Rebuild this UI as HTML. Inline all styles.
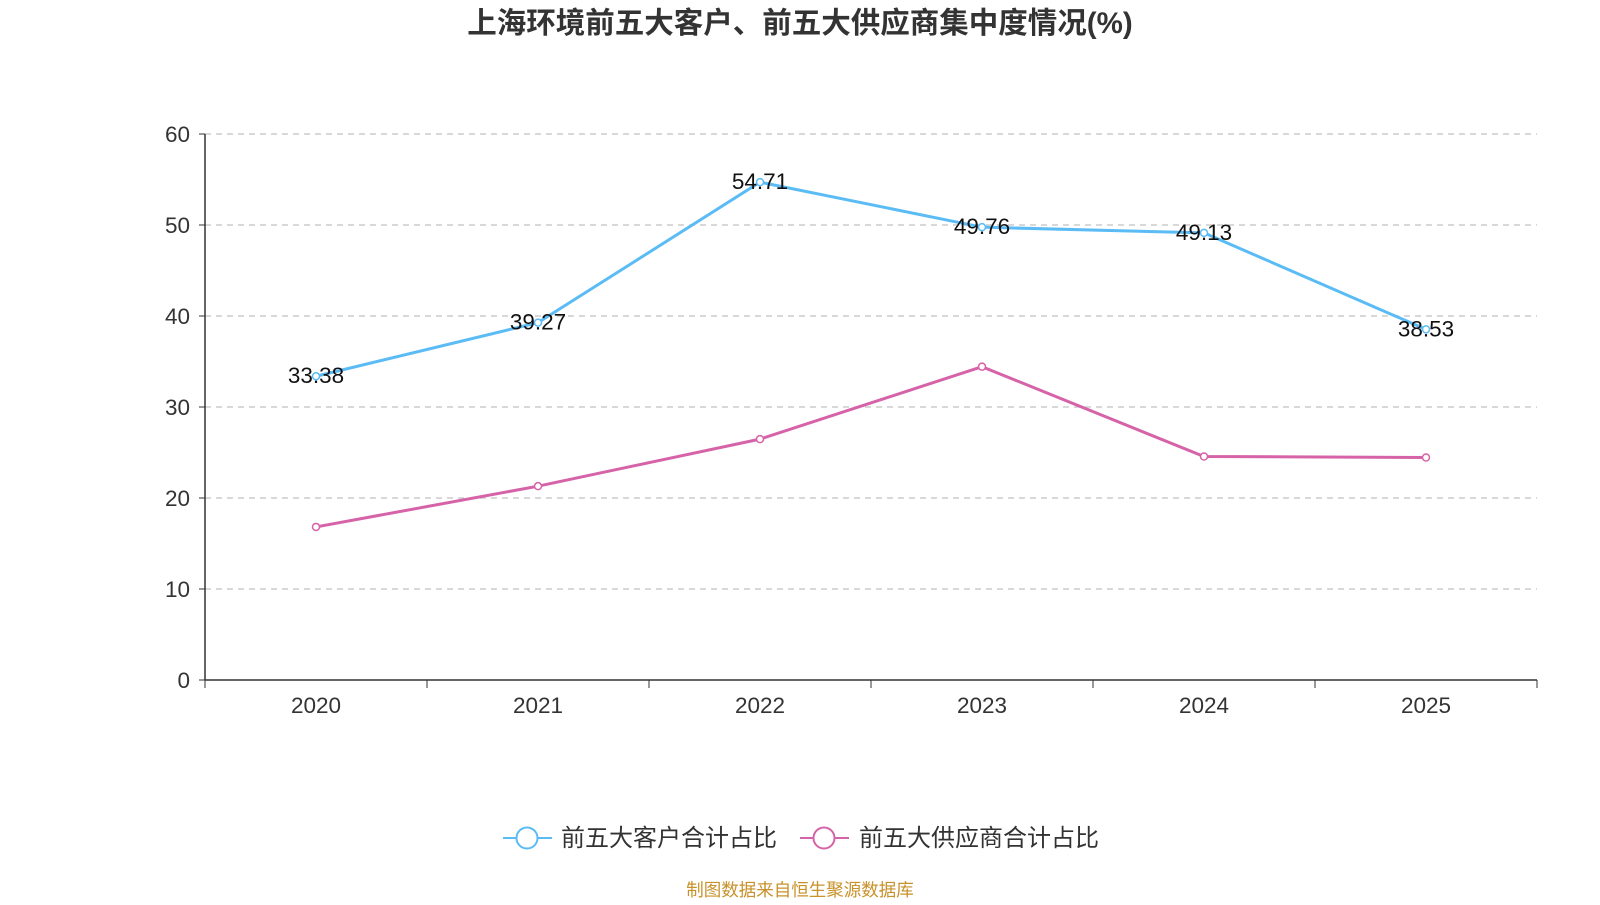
<!DOCTYPE html>
<html><head><meta charset="utf-8"><style>
body{margin:0;background:#fff;}
svg text{font-family:"Liberation Sans","Noto Sans CJK SC",sans-serif;}
</style></head><body>
<svg id="chart" width="1600" height="900" xmlns="http://www.w3.org/2000/svg">
<text x="800" y="33" text-anchor="middle" font-size="29.5" font-weight="bold" fill="#333">上海环境前五大客户、前五大供应商集中度情况(%)</text>
<g id="grid"></g><g id="axes"></g><g id="series"></g>
<g>
<line x1="503" y1="838" x2="552" y2="838" stroke="#5bbcf5" stroke-width="2"/>
<circle cx="527" cy="838" r="10.5" fill="#fff" stroke="#5bbcf5" stroke-width="2"/>
<text x="561" y="846" font-size="24" fill="#333">前五大客户合计占比</text>
<line x1="800" y1="838" x2="849" y2="838" stroke="#d662a8" stroke-width="2"/>
<circle cx="824" cy="838" r="10.5" fill="#fff" stroke="#d662a8" stroke-width="2"/>
<text x="859" y="846" font-size="24" fill="#333">前五大供应商合计占比</text>
</g>
<text x="800" y="896" text-anchor="middle" font-size="17.5" fill="#c8912a">制图数据来自恒生聚源数据库</text>
</svg>
<script>
const categories=["2020","2021","2022","2023","2024","2025"];
const customers=[33.38,39.27,54.71,49.76,49.13,38.53];
const suppliers=[16.82,21.3,26.47,34.43,24.56,24.45];
const yTicks=[0,10,20,30,40,50,60];
const NS="http://www.w3.org/2000/svg";
const L=205,R=1537,T=134,B=680,yMax=60;
const step=(R-L)/categories.length;
const xS=i=>L+step*(i+0.5);
const yS=v=>B-(v/yMax)*(B-T);
function mk(tag,attrs,parent,text){const e=document.createElementNS(NS,tag);for(const k in attrs)e.setAttribute(k,attrs[k]);if(text!==undefined)e.textContent=text;document.getElementById(parent).appendChild(e);return e;}
yTicks.forEach(v=>{
 if(v>0){const g=mk('line',{x1:L,x2:R,y1:yS(v),y2:yS(v),stroke:'#ccc','stroke-dasharray':'6,5','stroke-width':1.5},'grid');
 
 }
 const tk=mk('line',{x1:L-6,x2:L,y1:yS(v),y2:yS(v),stroke:'#333'},'axes');
 
 
 const t=mk('text',{x:L-15,y:yS(v)+8,'text-anchor':'end','font-size':22.5,fill:'#333'},'axes',String(v));
 
 
});
const ya=mk('line',{x1:L,x2:L,y1:T,y2:B,stroke:'#333','stroke-width':1.5},'axes');


const xa=mk('line',{x1:L,x2:R,y1:B,y2:B,stroke:'#333','stroke-width':1.5},'axes');


for(let i=0;i<=categories.length;i++){const tk=mk('line',{x1:L+step*i,x2:L+step*i,y1:B,y2:B+8,stroke:'#333'},'axes');
 
 }
categories.forEach((c,i)=>{const t=mk('text',{x:xS(i),y:713,'text-anchor':'middle','font-size':22.5,fill:'#333'},'axes',c);
 
 });
function series(vals,color,name,labels){
 const p=mk('polyline',{points:vals.map((v,i)=>xS(i)+','+yS(v)).join(' '),fill:'none',stroke:color,'stroke-width':3},'series');
 
 
 vals.forEach((v,i)=>{
  const c=mk('circle',{cx:xS(i),cy:yS(v),r:3.5,fill:'#fff',stroke:color,'stroke-width':1.5},'series');
  
  
  if(labels){const t=mk('text',{x:xS(i),y:yS(v)+7,'text-anchor':'middle','font-size':22.5,fill:'#111'},'series',v.toFixed(2));
   
   }
 });
}
series(suppliers,'#d662a8','suppliers',false);
series(customers,'#5bbcf5','customers',true);
</script>
</body></html>
